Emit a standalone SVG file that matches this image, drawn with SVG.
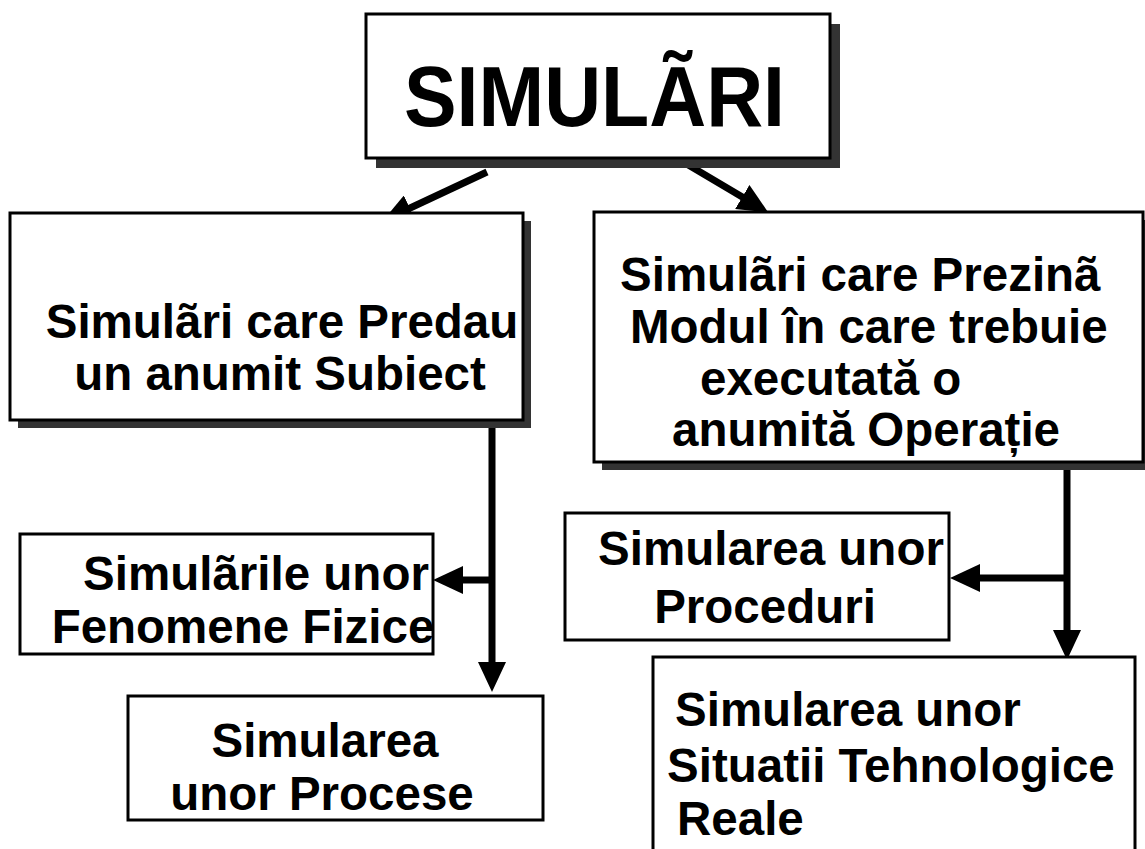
<svg xmlns="http://www.w3.org/2000/svg" width="1145" height="849" viewBox="0 0 1145 849">
<style>
.box{fill:#fff;stroke:#000;stroke-width:3}
.sh{fill:#333}
.t{font-family:"Liberation Sans",Arial,sans-serif;font-weight:bold;fill:#000;font-size:47.5px}
.m{text-anchor:middle}
.c{stroke:#000;stroke-width:7;fill:none;marker-end:url(#ah)}
</style>
<defs>
<marker id="ah" viewBox="0 0 30 28" refX="2" refY="14" markerWidth="30" markerHeight="28" markerUnits="userSpaceOnUse" orient="auto">
<path d="M0,0 L30,14 L0,28 z" fill="#000"/>
</marker>
</defs>
<rect width="1145" height="849" fill="#fff"/>
<g id="connectors">
<line class="c" x1="487" y1="172" x2="408" y2="209"/>
<line class="c" x1="685" y1="163" x2="744" y2="198"/>
<line class="c" x1="492" y1="428" x2="492" y2="664"/>
<line class="c" x1="492" y1="580" x2="461" y2="580"/>
<line class="c" x1="1067" y1="470" x2="1067" y2="632"/>
<line class="c" x1="1067" y1="578" x2="978" y2="578"/>
</g>
<g id="title">
<rect class="sh" x="376" y="24" width="464" height="144"/>
<rect class="box" x="366" y="14" width="464" height="144"/>
<text class="t" x="404" y="126" style="font-size:86px" textLength="381" lengthAdjust="spacingAndGlyphs">SIMULÃRI</text>
</g>
<g id="predau">
<rect class="sh" x="18" y="221" width="513" height="207"/>
<rect class="box" x="10" y="213" width="513" height="207"/>
<text class="t m"><tspan x="282" y="338">Simulãri care Predau</tspan><tspan x="280" y="390">un anumit Subiect</tspan></text>
</g>
<g id="prezinta">
<rect class="sh" x="602" y="220" width="560" height="250"/>
<rect class="box" x="594" y="212" width="549" height="250"/>
<text class="t"><tspan x="620" y="291">Simulãri care Prezinã</tspan><tspan x="630" y="343">Modul în care trebuie</tspan><tspan x="700" y="395">executată o</tspan><tspan x="672" y="446">anumită Operație</tspan></text>
</g>
<g id="fenomene">
<rect class="box" x="20" y="534" width="413" height="120"/>
<text class="t m"><tspan x="256" y="590">Simulãrile unor</tspan><tspan x="243" y="643">Fenomene Fizice</tspan></text>
</g>
<g id="procese">
<rect class="box" x="128" y="696" width="415" height="124"/>
<text class="t m"><tspan x="325" y="757">Simularea</tspan><tspan x="322" y="810">unor Procese</tspan></text>
</g>
<g id="proceduri">
<rect class="box" x="565" y="513" width="384" height="127"/>
<text class="t m"><tspan x="771" y="565">Simularea unor</tspan><tspan x="765" y="623">Proceduri</tspan></text>
</g>
<g id="situatii">
<rect class="box" x="653" y="657" width="482" height="200"/>
<text class="t"><tspan x="675" y="726">Simularea unor</tspan><tspan x="667" y="782">Situatii Tehnologice</tspan><tspan x="677" y="835">Reale</tspan></text>
</g>
</svg>
